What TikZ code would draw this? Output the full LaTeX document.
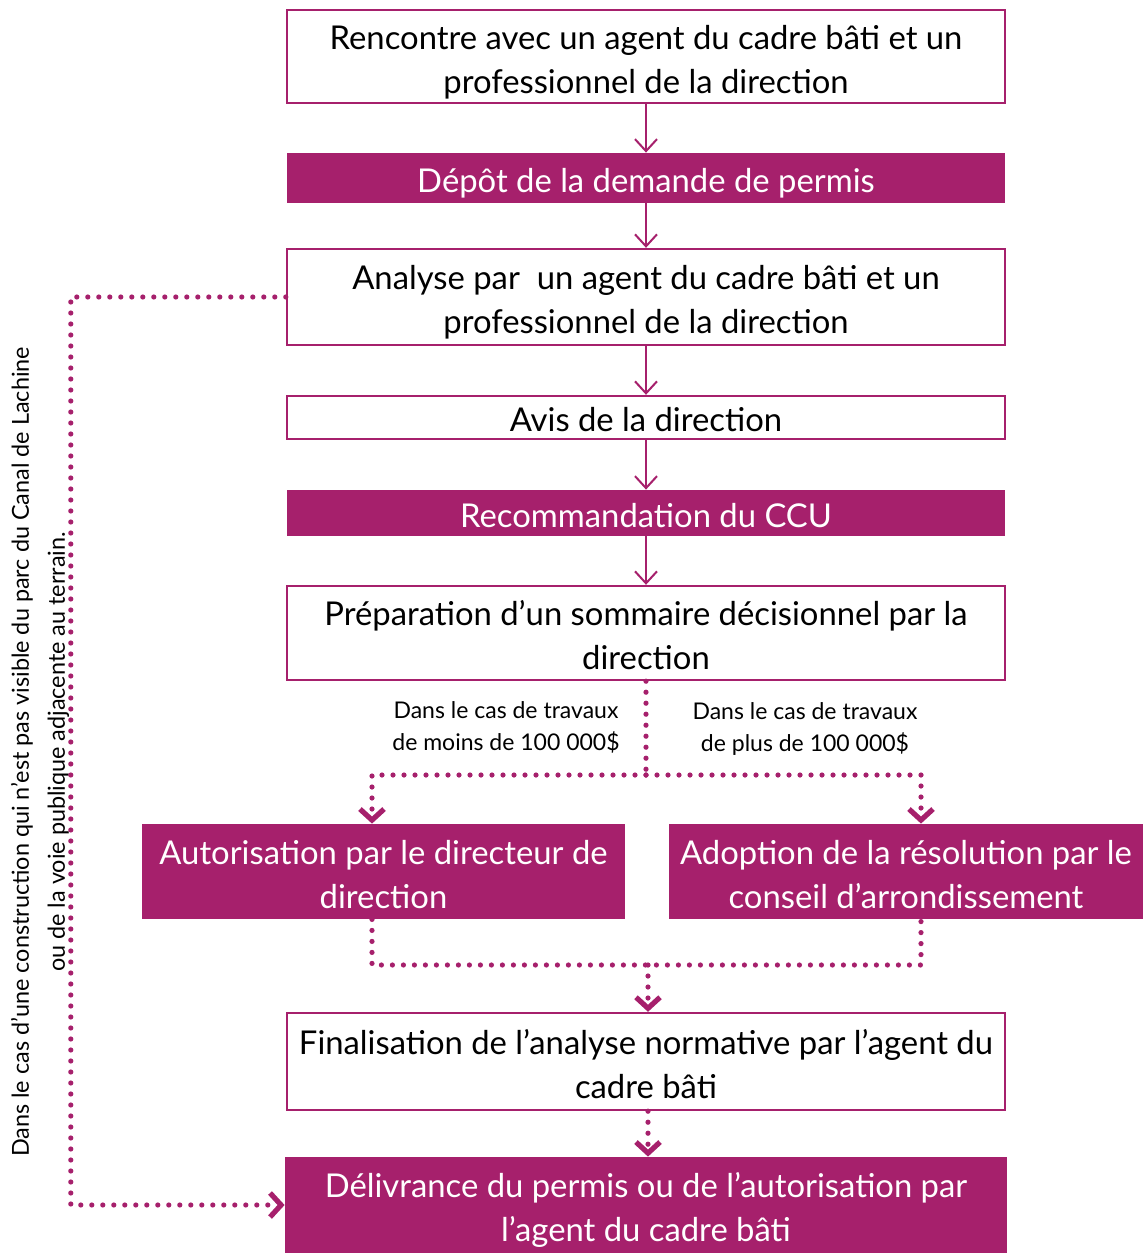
\documentclass[tikz,border=0pt]{standalone}
\usepackage{fontspec}
\setmainfont{Lato}
\usetikzlibrary{arrows.meta}
\definecolor{prune}{RGB}{166,32,108}
\tikzset{
  boxtext/.style={inner sep=0pt, minimum width=359pt, align=center,
    font=\fontsize{16.4}{22}\selectfont, text height=40.5pt, text depth=4pt},
  oneline/.style={text height=17.5pt, text depth=3.5pt},
  boxw/.style={boxtext, draw=prune, line width=1.2pt, fill=white},
  boxp/.style={boxtext, fill=prune, text=white},
  note/.style={align=center, font=\fontsize{11.5}{16}\selectfont},
  flow/.style={draw=prune, line width=1pt, -{Straight Barb[length=6pt,width=11pt]}},
  dotline/.style={draw=prune, line width=2.6pt, line cap=round,
    dash pattern=on 0pt off 5.5pt},
  dotflow/.style={dotline, -{Straight Barb[length=5.5pt,width=12pt]}}
}
\begin{document}
\begin{tikzpicture}[x=0.5pt,y=-0.5pt]
\useasboundingbox (0,0) rectangle (1143,1253);
% draws boxes
\node[boxw, minimum height=46.5pt] (rencontre) at (646,56.5) {Rencontre avec un agent du cadre bâti et un\\professionnel de la direction};
\node[boxp, oneline, minimum height=25pt] (depot) at (646,178) {Dépôt de la demande de permis};
\node[boxw, minimum height=48pt] (analyse) at (646,297) {Analyse par~ un agent du cadre bâti et un\\professionnel de la direction};
\node[boxw, oneline, minimum height=21.5pt] (avis) at (646,417.5) {Avis de la direction};
\node[boxp, oneline, minimum height=23pt] (ccu) at (646,513) {Recommandation du CCU};
\node[boxw, minimum height=47pt] (sommaire) at (646,633) {Préparation d’un sommaire décisionnel par la\\direction};
\node[boxp, minimum width=241.5pt, minimum height=47.5pt] (autor) at (383.5,871.5) {Autorisation par le directeur de\\direction};
\node[boxp, minimum width=237pt, minimum height=47.5pt] (adopt) at (906,871.5) {Adoption de la résolution par le\\conseil d’arrondissement};
\node[boxw, minimum height=48.5pt] (finalis) at (646,1061.5) {Finalisation de l’analyse normative par l’agent du\\cadre bâti};
\node[boxp, minimum width=361pt, minimum height=48pt] (delivr) at (646,1205) {Délivrance du permis ou de l’autorisation par\\l’agent du cadre bâti};
% labels
\node[note] (moins) at (506,727) {Dans le cas de travaux\\de moins de 100 000\$};
\node[note] (plus) at (805,729) {Dans le cas de travaux\\de plus de 100 000\$};
\node[note, rotate=90, font=\fontsize{11.7}{18}\selectfont] (visible) at (40,752) {Dans le cas d’une construction qui n’est pas visible du parc du Canal de Lachine\\ou de la voie publique adjacente au terrain.};
% draws arrows
\draw[flow] (rencontre.south) -- (depot.north);
\draw[flow] (depot.south) -- (analyse.north);
\draw[flow] (analyse.south) -- (avis.north);
\draw[flow] (avis.south) -- (ccu.north);
\draw[flow] (ccu.south) -- (sommaire.north);
% draws dotted paths
\coordinate (fork) at (646,775);
\coordinate (join) at (648,965);
\draw[dotline] (sommaire.south) -- (fork);
\draw[dotflow] (fork) -| ([xshift=-5.75pt]autor.north);
\draw[dotflow] (fork) -| ([xshift=7.5pt]adopt.north);
\draw[dotline] ([xshift=-5.75pt]autor.south) |- (join) -| ([xshift=7.5pt]adopt.south);
\draw[dotflow] (join) -- (finalis.north -| join);
\draw[dotflow] (finalis.south -| join) -- (delivr.north -| join);
\draw[dotflow] (analyse.west) -- ++(-215,0) |- (delivr.west);
\end{tikzpicture}
\end{document}
